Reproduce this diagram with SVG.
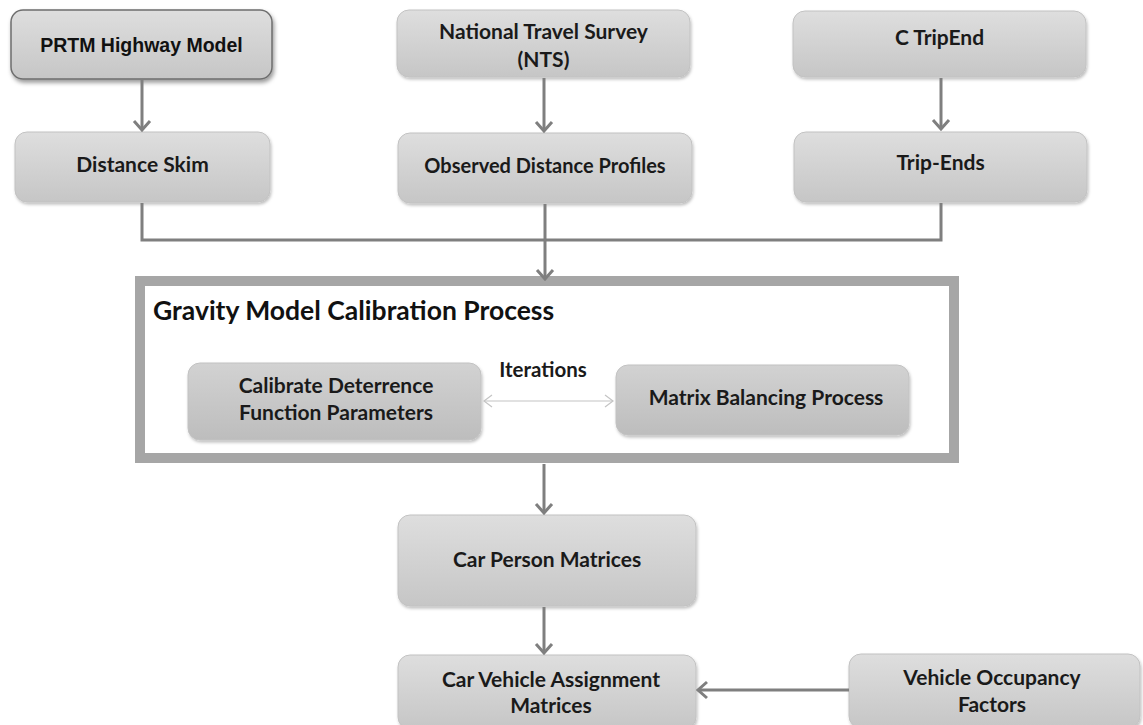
<svg xmlns="http://www.w3.org/2000/svg" width="1143" height="725" viewBox="0 0 1143 725">
  <defs>
    <linearGradient id="boxFill" x1="0" y1="0" x2="0" y2="1">
      <stop offset="0" stop-color="#dedede"/>
      <stop offset="1" stop-color="#c6c6c6"/>
    </linearGradient>
    <linearGradient id="innerFill" x1="0" y1="0" x2="0" y2="1">
      <stop offset="0" stop-color="#d2d2d2"/>
      <stop offset="1" stop-color="#bdbdbd"/>
    </linearGradient>
    <filter id="shadow" x="-10%" y="-10%" width="125%" height="135%">
      <feDropShadow dx="1" dy="2" stdDeviation="1.8" flood-color="#000" flood-opacity="0.25"/>
    </filter>
    <filter id="shadowStrong" x="-10%" y="-10%" width="125%" height="140%">
      <feDropShadow dx="1.5" dy="3" stdDeviation="2.2" flood-color="#000" flood-opacity="0.4"/>
    </filter>
    <marker id="arrow" viewBox="-12 -10 14 20" refX="0" refY="0" markerWidth="14" markerHeight="20" markerUnits="userSpaceOnUse" orient="auto">
      <path d="M-9,-8 L0,0 L-9,8" fill="none" stroke="#7f7f7f" stroke-width="3"/>
    </marker>
    <marker id="thinArrow" viewBox="-10 -8 12 16" refX="0" refY="0" markerWidth="12" markerHeight="16" markerUnits="userSpaceOnUse" orient="auto-start-reverse">
      <path d="M-8,-6 L0,0 L-8,6" fill="none" stroke="#c4c4c4" stroke-width="1.2"/>
    </marker>
  </defs>
  <style>
    .box { fill: url(#boxFill); stroke: #c2c2c2; stroke-width: 1; filter: url(#shadow); }
    .inner { fill: url(#innerFill); stroke: #c2c2c2; stroke-width: 1; filter: url(#shadow); }
    .lbl { font-family: Lato, "Open Sans", sans-serif; font-weight: bold; font-size: 21px; fill: #1a1a1a; text-anchor: middle; }
    .lbl.narrow { font-size: 20px; }
    .conn { fill: none; stroke: #7f7f7f; stroke-width: 3; }
  </style>
  <rect width="1143" height="725" fill="#ffffff"/>

  <!-- source nodes -->
  <g id="prtm-highway-model">
    <rect x="11" y="10" width="261" height="69" rx="12" fill="url(#boxFill)" stroke="#6e6e6e" stroke-width="1.5" filter="url(#shadowStrong)"/>
    <text x="141.5" y="52" font-family="'Liberation Sans', Arial, sans-serif" font-weight="bold" font-size="19.5" fill="#111" text-anchor="middle">PRTM Highway Model</text>
  </g>
  <g id="national-travel-survey">
    <rect class="box" x="397" y="10" width="293" height="67" rx="12"/>
    <text class="lbl" x="543.5" y="39">National Travel Survey</text>
    <text class="lbl" x="543.5" y="67">(NTS)</text>
  </g>
  <g id="c-tripend">
    <rect class="box" x="793" y="11" width="293" height="66" rx="12"/>
    <text class="lbl" x="939.5" y="45">C TripEnd</text>
  </g>

  <!-- derived inputs -->
  <g id="distance-skim">
    <rect class="box" x="15" y="132" width="255" height="70" rx="12"/>
    <text class="lbl" x="142.5" y="172">Distance Skim</text>
  </g>
  <g id="observed-distance-profiles">
    <rect class="box" x="398" y="133" width="294" height="70" rx="12"/>
    <text class="lbl narrow" x="545" y="173">Observed Distance Profiles</text>
  </g>
  <g id="trip-ends">
    <rect class="box" x="794" y="132" width="293" height="70" rx="12"/>
    <text class="lbl" x="940.5" y="170">Trip-Ends</text>
  </g>

  <!-- calibration frame -->
  <g id="gravity-model-calibration">
    <rect x="140" y="281" width="814" height="177" fill="#ffffff" stroke="#a6a6a6" stroke-width="10"/>
    <text x="153" y="320" font-family="Lato, 'Open Sans', sans-serif" font-weight="bold" font-size="26.5" fill="#111">Gravity Model Calibration Process</text>
  </g>
  <g id="calibrate-deterrence">
    <rect class="inner" x="188" y="363" width="293" height="77" rx="12"/>
    <text class="lbl" x="336" y="393">Calibrate Deterrence</text>
    <text class="lbl" x="336" y="420">Function Parameters</text>
  </g>
  <g id="matrix-balancing">
    <rect class="inner" x="616" y="365" width="293" height="70" rx="12"/>
    <text class="lbl" x="766" y="405">Matrix Balancing Process</text>
  </g>

  <!-- outputs -->
  <g id="car-person-matrices">
    <rect class="box" x="398" y="515" width="298" height="91" rx="12"/>
    <text class="lbl" x="547" y="567">Car Person Matrices</text>
  </g>
  <g id="car-vehicle-assignment">
    <rect class="box" x="398" y="655" width="298" height="74" rx="12"/>
    <text class="lbl" x="551" y="687">Car Vehicle Assignment</text>
    <text class="lbl" x="551" y="713">Matrices</text>
  </g>
  <g id="vehicle-occupancy-factors">
    <rect class="box" x="849" y="654" width="291" height="74" rx="12"/>
    <text class="lbl" x="992" y="685">Vehicle Occupancy</text>
    <text class="lbl" x="992" y="712">Factors</text>
  </g>

  <!-- connectors -->
  <g id="connectors">
    <line class="conn" x1="142" y1="80" x2="142" y2="130" marker-end="url(#arrow)"/>
    <line class="conn" x1="544" y1="78" x2="544" y2="131" marker-end="url(#arrow)"/>
    <line class="conn" x1="941" y1="78" x2="941" y2="129" marker-end="url(#arrow)"/>
    <path class="conn" d="M142,203 V240 H941 V203"/>
    <line class="conn" x1="545" y1="204" x2="545" y2="279" marker-end="url(#arrow)"/>
    <line class="conn" x1="544" y1="464" x2="544" y2="513" marker-end="url(#arrow)"/>
    <line class="conn" x1="544" y1="607" x2="544" y2="653" marker-end="url(#arrow)"/>
    <line class="conn" x1="849" y1="690" x2="698" y2="690" marker-end="url(#arrow)"/>
    <line x1="484" y1="401" x2="613" y2="401" stroke="#c4c4c4" stroke-width="1.2" marker-start="url(#thinArrow)" marker-end="url(#thinArrow)"/>
    <text x="543" y="377" font-family="Lato, 'Open Sans', sans-serif" font-weight="bold" font-size="20.5" fill="#1a1a1a" text-anchor="middle">Iterations</text>
  </g>
</svg>
